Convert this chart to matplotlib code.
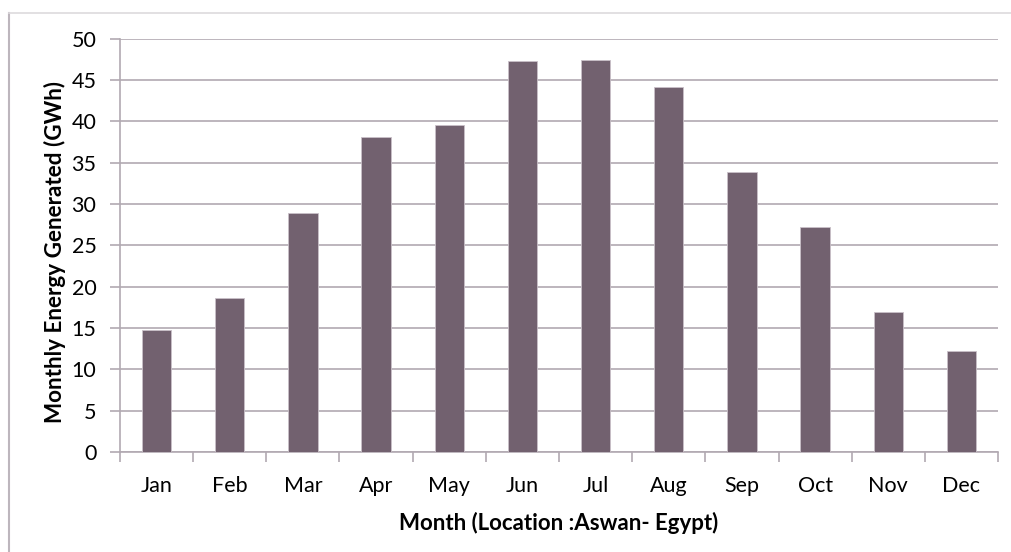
import matplotlib
matplotlib.use('Agg')
from matplotlib import pyplot as plt
from matplotlib.lines import Line2D

months = ['Jan', 'Feb', 'Mar', 'Apr', 'May', 'Jun', 'Jul', 'Aug', 'Sep', 'Oct', 'Nov', 'Dec']
energy_gwh = [14.7, 18.6, 28.9, 38.1, 39.6, 47.35, 47.45, 44.15, 33.9, 27.2, 16.9, 12.2]
y_ticks = [0, 5, 10, 15, 20, 25, 30, 35, 40, 45, 50]

plt.rcParams['font.family'] = ['Lato', 'DejaVu Sans']

fig = plt.figure(figsize=(10.11, 5.52), dpi=100)
ax = fig.add_axes([120 / 1011, 1 - 452 / 552, (998 - 120) / 1011, (452 - 38.7) / 552])

grid_color = '#B1A9B1'
x = list(range(len(months)))
ax.bar(x, energy_gwh, width=0.4, color='#72616F', edgecolor='#C9C0C8', linewidth=0.6, zorder=3)

ax.set_xlim(-0.5, len(months) - 0.5)
ax.set_ylim(0, 50)
ax.set_yticks(y_ticks)
ax.set_xticks(x)
ax.set_xticklabels(months)
ax.set_xticks([i - 0.5 for i in range(len(months) + 1)], minor=True)
ax.tick_params(axis='x', which='major', length=0, pad=17, labelsize=15.5)
ax.tick_params(axis='x', which='minor', length=7, color=grid_color, width=1.2)
ax.tick_params(axis='y', length=7, color=grid_color, width=1.2, pad=10, labelsize=15.5)
ax.yaxis.grid(True, color=grid_color, linewidth=1.2, zorder=0)

for side in ['top', 'right']:
    ax.spines[side].set_visible(False)
for side in ['left', 'bottom']:
    ax.spines[side].set_color(grid_color)
    ax.spines[side].set_linewidth(1.2)

ax.set_xlabel('Month (Location :Aswan- Egypt)', fontsize=16, fontweight='bold', labelpad=12)
ax.set_ylabel('Monthly Energy Generated (GWh)', fontsize=16.2, fontweight='bold')
ax.yaxis.set_label_coords(-0.0615, 0.485)

# outer chart frame (only left and top edges visible in the crop)
fig.add_artist(Line2D([9 / 1011, 9 / 1011], [0, 1 - 13 / 552], transform=fig.transFigure, color='#BDB6BD', linewidth=1.5))
fig.add_artist(Line2D([9 / 1011, 1], [1 - 13 / 552, 1 - 13 / 552], transform=fig.transFigure, color='#DDDADD', linewidth=1.2))

fig.savefig('out.png', dpi=100)
